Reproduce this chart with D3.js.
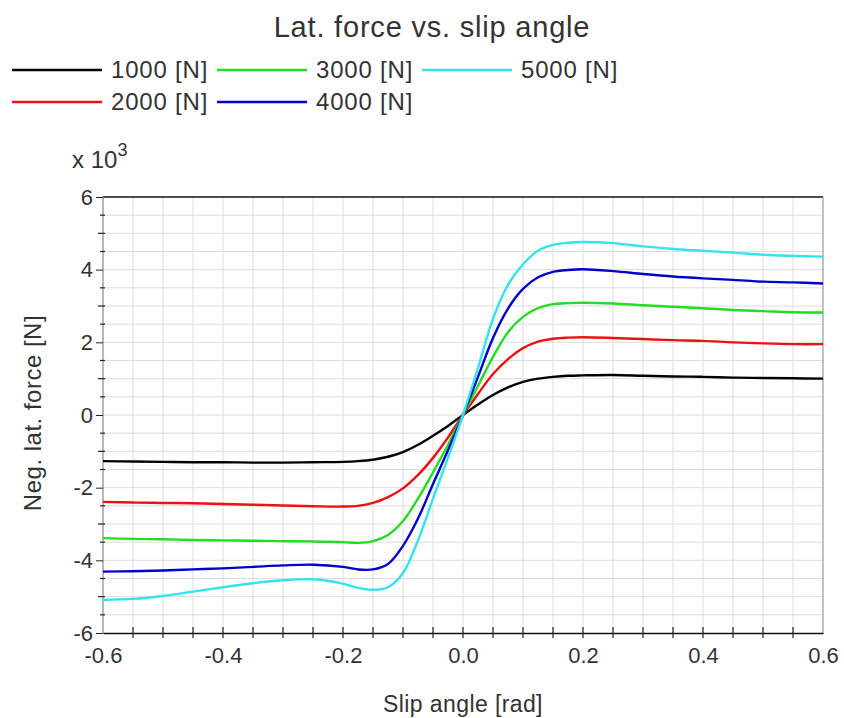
<!DOCTYPE html>
<html><head><meta charset="utf-8">
<script src="https://cdn.jsdelivr.net/npm/d3@7"></script>
<style>
body{margin:0;background:#fff;}
text{font-family:"Liberation Sans",Arial,sans-serif;fill:#333;}
</style></head><body>
<svg id="c" width="844" height="718"></svg>
<script>
// slip angle [rad]
const slip = [-0.6,-0.55,-0.5,-0.45,-0.4,-0.35,-0.3,-0.25,-0.2,-0.175,-0.15,-0.125,-0.1,-0.075,-0.05,-0.025,0,
  0.025,0.05,0.075,0.1,0.125,0.15,0.175,0.2,0.25,0.3,0.35,0.4,0.45,0.5,0.55,0.6];
// negative lateral force [x 10^3 N]
const f1000 = [-1.27,-1.28,-1.29,-1.30,-1.30,-1.31,-1.31,-1.30,-1.29,-1.27,-1.23,-1.15,-1.02,-0.82,-0.57,-0.30,0,
  0.29,0.55,0.76,0.91,1.00,1.05,1.08,1.09,1.10,1.08,1.06,1.05,1.03,1.02,1.01,1.00];
const f2000 = [-2.39,-2.41,-2.42,-2.43,-2.45,-2.47,-2.49,-2.51,-2.52,-2.50,-2.42,-2.26,-2.02,-1.65,-1.18,-0.62,0,
  0.58,1.13,1.54,1.84,2.02,2.10,2.13,2.14,2.12,2.09,2.06,2.04,2.00,1.97,1.95,1.95];
const f3000 = [-3.39,-3.41,-3.42,-3.44,-3.45,-3.46,-3.47,-3.48,-3.50,-3.52,-3.47,-3.30,-2.92,-2.30,-1.58,-0.82,0,
  0.80,1.60,2.28,2.70,2.94,3.05,3.08,3.09,3.07,3.02,2.98,2.94,2.89,2.86,2.83,2.82];
const f4000 = [-4.31,-4.30,-4.28,-4.25,-4.22,-4.18,-4.14,-4.12,-4.18,-4.25,-4.25,-4.10,-3.60,-2.85,-1.90,-0.97,0,
  1.05,2.12,2.93,3.47,3.79,3.94,3.99,4.01,3.96,3.88,3.81,3.76,3.72,3.67,3.65,3.62];
const f5000 = [-5.09,-5.06,-4.98,-4.86,-4.74,-4.63,-4.55,-4.52,-4.64,-4.76,-4.81,-4.74,-4.35,-3.45,-2.30,-1.18,0,
  1.30,2.65,3.58,4.15,4.52,4.68,4.74,4.76,4.73,4.64,4.57,4.52,4.47,4.41,4.38,4.36];
const seriesNames = ["1000 [N]","2000 [N]","3000 [N]","4000 [N]","5000 [N]"];
const seriesColors = ["#000000","#ee1111","#22dd22","#0000cc","#33e3ee"];
const seriesValues = [f1000,f2000,f3000,f4000,f5000];
const xTicks = [-0.6,-0.4,-0.2,0.0,0.2,0.4,0.6];
const yTicks = [-6,-4,-2,0,2,4,6];

const svg = d3.select("#c");
const L=103,R=823,T=197,B=633;
const x = d3.scaleLinear().domain([-0.6,0.6]).range([L,R]);
const y = d3.scaleLinear().domain([-6,6]).range([B,T]);
const hy = s => String(s).replace("\u2212","-");

// title
svg.append("text").attr("x",432).attr("y",37).attr("text-anchor","middle")
  .attr("font-size",29).attr("letter-spacing",0.8).text("Lat. force vs. slip angle");

// legend
const legPos = [[12,70],[12,102],[217,70],[217,102],[422,70]];
seriesNames.forEach((n,i)=>{
  const [lx,ly]=legPos[i];
  svg.append("line").attr("x1",lx).attr("x2",lx+90).attr("y1",ly).attr("y2",ly)
    .attr("stroke",seriesColors[i]).attr("stroke-width",2.5);
  svg.append("text").attr("x",lx+99).attr("y",ly+8).attr("font-size",24).attr("letter-spacing",0.8).text(n);
});

// exponent
const ex = svg.append("text").attr("x",72).attr("y",168).attr("font-size",24);
ex.append("tspan").text("x 10");
ex.append("tspan").attr("dy",-12).attr("font-size",18).text("3");

// grid
const g = svg.append("g");
g.selectAll(".vg").data(d3.range(-0.55,0.6,0.05)).join("line")
  .attr("x1",d=>x(d)).attr("x2",d=>x(d)).attr("y1",T).attr("y2",B)
  .attr("stroke","#dcdcdc").attr("stroke-width",1);
g.selectAll(".hg").data(d3.range(-5.5,6,0.5)).join("line")
  .attr("y1",d=>y(d)).attr("y2",d=>y(d)).attr("x1",L).attr("x2",R)
  .attr("stroke","#dcdcdc").attr("stroke-width",1);

// frame
svg.append("line").attr("x1",L).attr("x2",R).attr("y1",T).attr("y2",T).attr("stroke","#111").attr("stroke-width",1.5);
svg.append("line").attr("x1",R).attr("x2",R).attr("y1",T).attr("y2",B).attr("stroke","#999").attr("stroke-width",1.2);
svg.append("line").attr("x1",L).attr("x2",L).attr("y1",T).attr("y2",B).attr("stroke","#888").attr("stroke-width",1.2);

// y axis
const ya = svg.append("g").attr("transform",`translate(${L},0)`)
  .call(d3.axisLeft(y).tickValues(yTicks).tickFormat(d=>hy(d3.format("d")(d))).tickSize(7).tickPadding(3));
ya.select(".domain").remove();
ya.selectAll("text").attr("font-size",22).attr("font-family","Liberation Sans,Arial,sans-serif").attr("fill","#333");
ya.selectAll("line").attr("stroke","#222");
const yMinor = d3.range(-5.5,6,0.5).filter(d=>Math.abs(d%2)>1e-6);
svg.append("g").selectAll("line").data(yMinor).join("line")
  .attr("x1",d=> Math.abs(d%1)<1e-6 ? L-5 : L-3).attr("x2",L+2)
  .attr("y1",d=>y(d)).attr("y2",d=>y(d)).attr("stroke","#222").attr("stroke-width",1.2);

// x axis
const xa = svg.append("g").attr("transform",`translate(0,${B})`)
  .call(d3.axisBottom(x).tickValues(xTicks).tickFormat(d=>hy(d3.format(".1f")(d))).tickSize(0).tickPadding(14));
xa.select(".domain").attr("stroke","#111").attr("stroke-width",1.5);
xa.selectAll("text").attr("font-size",22).attr("font-family","Liberation Sans,Arial,sans-serif").attr("fill","#333");
svg.append("g").selectAll("line").data(d3.range(-0.55,0.6,0.05)).join("line")
  .attr("x1",d=>x(d)).attr("x2",d=>x(d)).attr("y1",B-6).attr("y2",B+5)
  .attr("stroke","#222").attr("stroke-width",1.2);

// axis titles
svg.append("text").attr("x",463).attr("y",712).attr("text-anchor","middle").attr("font-size",23)
  .attr("letter-spacing",0.4).text("Slip angle [rad]");
svg.append("text").attr("transform","translate(41,413) rotate(-90)").attr("text-anchor","middle")
  .attr("font-size",24).attr("letter-spacing",0.5).text("Neg. lat. force [N]");

// curves
const line = d3.line().x((d,i)=>x(slip[i])).y(d=>y(d)).curve(d3.curveCatmullRom.alpha(0.5));
svg.append("g").selectAll("path").data(seriesValues).join("path")
  .attr("d",d=>line(d)).attr("fill","none")
  .attr("stroke",(d,i)=>seriesColors[i]).attr("stroke-width",2.4);
</script></body></html>
